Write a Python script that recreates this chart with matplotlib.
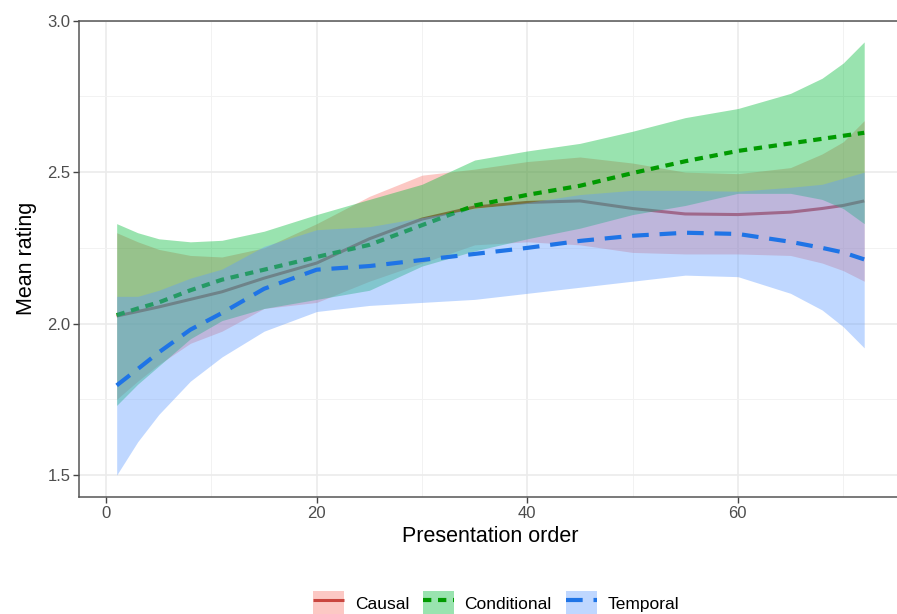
import matplotlib
matplotlib.use('Agg')
import matplotlib.pyplot as plt
from matplotlib.patches import Patch
from matplotlib.lines import Line2D
from matplotlib.legend_handler import HandlerTuple

plt.rcParams['font.family'] = ['Liberation Sans', 'DejaVu Sans']

# smoothed fits (presentation order vs mean rating)
order = [1, 3, 5, 8, 11, 15, 20, 25, 30, 35, 40, 45, 50, 55, 60, 65, 68, 70, 72]

causal_fit = [2.025, 2.04, 2.055, 2.08, 2.105, 2.15, 2.20, 2.28, 2.345, 2.385, 2.40, 2.405, 2.38, 2.362, 2.36, 2.368, 2.38, 2.39, 2.405]
causal_lo = [1.75, 1.81, 1.865, 1.935, 1.975, 2.05, 2.07, 2.14, 2.20, 2.26, 2.27, 2.26, 2.235, 2.23, 2.23, 2.225, 2.20, 2.175, 2.14]
causal_hi = [2.30, 2.27, 2.245, 2.225, 2.22, 2.25, 2.33, 2.42, 2.49, 2.51, 2.535, 2.55, 2.53, 2.50, 2.495, 2.515, 2.56, 2.60, 2.67]

cond_fit = [2.028, 2.05, 2.07, 2.11, 2.145, 2.178, 2.22, 2.26, 2.325, 2.39, 2.425, 2.455, 2.497, 2.536, 2.57, 2.595, 2.61, 2.62, 2.63]
cond_lo = [1.73, 1.80, 1.86, 1.95, 2.01, 2.05, 2.08, 2.11, 2.19, 2.24, 2.28, 2.315, 2.36, 2.39, 2.43, 2.43, 2.41, 2.38, 2.33]
cond_hi = [2.33, 2.30, 2.28, 2.27, 2.275, 2.305, 2.36, 2.41, 2.46, 2.54, 2.57, 2.595, 2.635, 2.68, 2.71, 2.76, 2.81, 2.86, 2.93]

temp_fit = [1.796, 1.85, 1.905, 1.98, 2.035, 2.115, 2.178, 2.19, 2.21, 2.23, 2.25, 2.273, 2.29, 2.30, 2.296, 2.27, 2.25, 2.235, 2.212]
temp_lo = [1.50, 1.61, 1.70, 1.81, 1.89, 1.975, 2.04, 2.06, 2.07, 2.08, 2.10, 2.12, 2.14, 2.16, 2.155, 2.10, 2.045, 1.99, 1.92]
temp_hi = [2.09, 2.09, 2.11, 2.15, 2.18, 2.255, 2.31, 2.32, 2.35, 2.38, 2.40, 2.426, 2.44, 2.44, 2.437, 2.45, 2.46, 2.48, 2.50]

groups = ['Causal', 'Conditional', 'Temporal']
fills = ['#F8766D', '#00BA38', '#619CFF']
line_cols = ['#C9463F', '#009A00', '#1F74E6']
dashes = [None, (2.0, 1.6), (4.0, 2.6)]
widths = [2.2, 3.0, 3.0]

fits = [causal_fit, cond_fit, temp_fit]
los = [causal_lo, cond_lo, temp_lo]
his = [causal_hi, cond_hi, temp_hi]

fig = plt.figure(figsize=(8.97, 6.14), dpi=100)
ax = fig.add_axes([0.0884, 0.191, 0.9167, 0.7753])

handles = []
for i, g in enumerate(groups):
    ax.fill_between(order, los[i], his[i], color=fills[i], alpha=0.4, lw=0, zorder=2 + i)
    ln, = ax.plot(order, fits[i], color=line_cols[i], lw=widths[i], zorder=2 + i,
                  solid_capstyle='butt', dash_capstyle='butt')
    if dashes[i] is not None:
        ln.set_dashes(dashes[i])
    key_line = Line2D([], [], color=line_cols[i], lw=widths[i], dash_capstyle='butt',
                      solid_capstyle='butt')
    if dashes[i] is not None:
        key_line.set_dashes(dashes[i])
    handles.append((Patch(facecolor=fills[i], alpha=0.4, lw=0), key_line))

ax.set_xlim(-2.55, 75.55)
ax.set_ylim(1.4285, 3.0)
ax.set_xticks([0, 20, 40, 60])
ax.set_xticks([10, 30, 50, 70], minor=True)
ax.set_yticks([1.5, 2.0, 2.5, 3.0])
ax.set_yticks([1.75, 2.25, 2.75], minor=True)
ax.set_yticklabels(['1.5', '2.0', '2.5', '3.0'])
ax.grid(which='major', color='#ebebeb', lw=1.2, zorder=0)
ax.grid(which='minor', color='#f2f2f2', lw=0.7, zorder=0)
ax.set_axisbelow(True)

for s in ['left', 'bottom', 'top']:
    ax.spines[s].set_color('#555555')
    ax.spines[s].set_linewidth(1.1)
ax.spines['right'].set_visible(False)
ax.tick_params(which='major', length=4, width=1, color='#444444', labelcolor='#4d4d4d',
               labelsize=12, pad=2.5)
ax.tick_params(which='minor', length=0)

ax.set_xlabel('Presentation order', fontsize=15.5, labelpad=4)
ax.set_ylabel('Mean rating', fontsize=15.5, labelpad=7)

fig.legend(handles, groups, handler_map={tuple: HandlerTuple(ndivide=1, pad=0)},
           loc='center', bbox_to_anchor=(0.553, 0.018), ncol=3, frameon=False,
           fontsize=12.5, handlelength=1.8, handleheight=1.8, handletextpad=0.6,
           columnspacing=0.8, borderaxespad=0)

fig.savefig('out.png', dpi=100)
